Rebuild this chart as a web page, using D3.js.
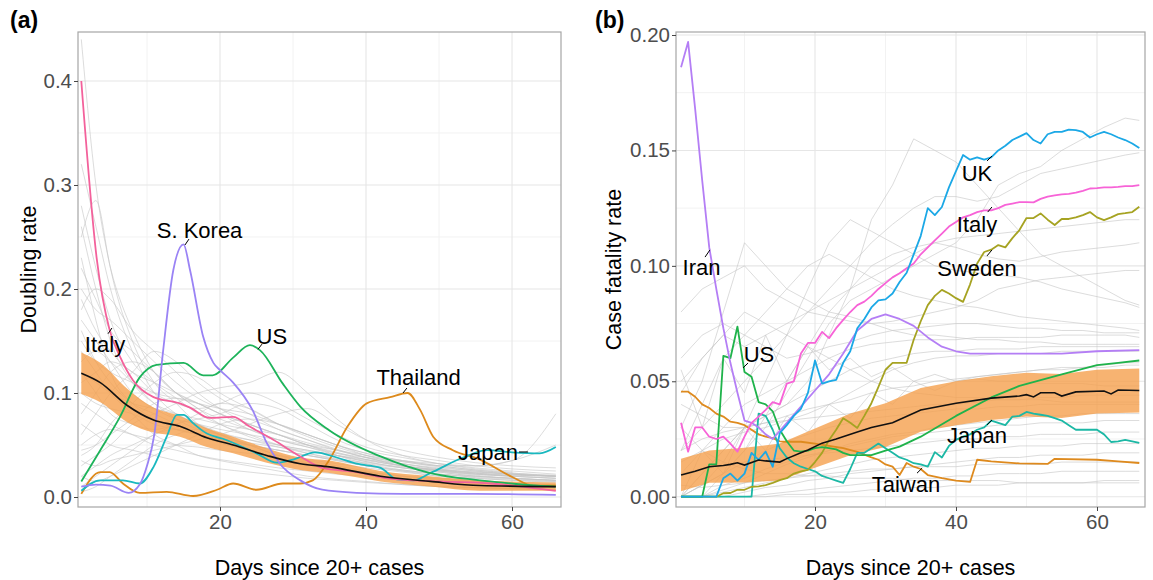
<!DOCTYPE html>
<html><head><meta charset="utf-8">
<script src="https://cdn.jsdelivr.net/npm/d3@7"></script>
<style>body{margin:0;background:#fff}svg{display:block}</style>
</head><body><svg id="chart" width="1153" height="580"></svg>
<script>
// ---------------- DATA : panel (a) doubling rate ----------------
const greyDaysA = [1,3,5,8,11,14,17,20,24,28,32,36,40,45,50,55,60,66];
const greyA = [
 [0.44,0.30,0.22,0.15,0.11,0.09,0.07,0.06,0.05,0.04,0.035,0.03,0.025,0.02,0.018,0.015,0.013,0.012],
 [0.32,0.26,0.20,0.14,0.10,0.08,0.07,0.06,0.05,0.045,0.04,0.035,0.03,0.025,0.022,0.02,0.018,0.016],
 [0.25,0.285,0.22,0.16,0.12,0.10,0.085,0.07,0.06,0.05,0.042,0.036,0.03,0.026,0.022,0.019,0.017,0.015],
 [0.28,0.22,0.17,0.13,0.11,0.095,0.08,0.07,0.058,0.05,0.045,0.04,0.034,0.028,0.024,0.02,0.018,0.016],
 [0.22,0.19,0.16,0.14,0.12,0.10,0.09,0.08,0.07,0.06,0.05,0.043,0.036,0.03,0.026,0.022,0.02],
 [0.20,0.18,0.17,0.15,0.13,0.11,0.095,0.085,0.075,0.065,0.055,0.045,0.038,0.03,0.025,0.021,0.018,0.016],
 [0.18,0.20,0.19,0.16,0.14,0.12,0.10,0.085,0.07,0.06,0.05,0.04,0.032,0.026,0.022,0.019],
 [0.15,0.13,0.12,0.11,0.10,0.095,0.09,0.085,0.08,0.07,0.06,0.05,0.042,0.035,0.03,0.026,0.023,0.02],
 [0.12,0.11,0.10,0.09,0.085,0.08,0.075,0.07,0.065,0.06,0.052,0.045,0.038,0.03,0.025,0.022,0.02,0.018],
 [0.10,0.09,0.085,0.08,0.07,0.065,0.06,0.055,0.05,0.045,0.04,0.035,0.03,0.025,0.02,0.018,0.016,0.014],
 [0.08,0.10,0.12,0.13,0.12,0.10,0.085,0.075,0.065,0.055,0.048,0.04,0.034,0.028,0.024,0.02,0.018,0.016],
 [0.06,0.08,0.10,0.12,0.14,0.13,0.11,0.095,0.08,0.065,0.055,0.046,0.038,0.032,0.027,0.023,0.02,0.018],
 [0.04,0.05,0.07,0.09,0.11,0.12,0.115,0.10,0.085,0.07,0.06,0.05,0.042,0.035,0.03,0.026,0.023,0.021],
 [0.03,0.04,0.05,0.07,0.08,0.09,0.10,0.105,0.11,0.12,0.10,0.075,0.055,0.04,0.032,0.027,0.024],
 [0.02,0.03,0.04,0.05,0.06,0.07,0.075,0.08,0.09,0.085,0.07,0.055,0.045,0.038,0.032,0.028,0.025,0.022],
 [0.01,0.02,0.03,0.045,0.06,0.065,0.06,0.055,0.05,0.045,0.04,0.036,0.032,0.028,0.025,0.022,0.02,0.018],
 [0.05,0.06,0.065,0.06,0.055,0.05,0.048,0.045,0.042,0.04,0.036,0.032,0.028,0.024,0.02,0.018,0.016,0.015],
 [0.09,0.08,0.07,0.06,0.05,0.045,0.04,0.036,0.032,0.028,0.025,0.022,0.02,0.018,0.016,0.014,0.012,0.011],
 [0.07,0.06,0.05,0.045,0.04,0.035,0.03,0.027,0.024,0.021,0.018,0.016,0.014,0.012,0.01,0.009,0.008,0.007],
 [0.14,0.12,0.10,0.08,0.06,0.05,0.04,0.035,0.03,0.025,0.02,0.017,0.015,0.012,0.01,0.009,0.008,0.007],
 [0.17,0.15,0.13,0.10,0.085,0.075,0.07,0.065,0.06,0.055,0.05,0.045,0.04,0.035,0.032,0.03,0.035,0.08],
 [0.11,0.12,0.13,0.12,0.10,0.09,0.085,0.09,0.10,0.09,0.075,0.06,0.048,0.04,0.035,0.03,0.027,0.025],
 [0.02,0.015,0.02,0.03,0.04,0.05,0.06,0.07,0.075,0.07,0.06,0.05,0.04,0.032,0.027,0.024,0.022,0.02],
 [0.13,0.14,0.13,0.11,0.09,0.075,0.065,0.06,0.055,0.05,0.045,0.04,0.035,0.03,0.026,0.023,0.021,0.02],
 [0.26,0.20,0.15,0.11,0.09,0.08,0.07,0.062,0.055,0.048,0.042,0.037,0.033,0.029,0.026,0.024,0.022,0.02],
 [0.005,0.01,0.02,0.035,0.05,0.06,0.065,0.06,0.05,0.04,0.033,0.028,0.024,0.02,0.017,0.015,0.013],
 [0.035,0.03,0.035,0.04,0.045,0.05,0.055,0.06,0.07,0.08,0.085,0.07,0.055,0.045,0.038,0.033,0.03,0.028],
 [0.16,0.13,0.11,0.09,0.08,0.07,0.06,0.052,0.045,0.038,0.032,0.028,0.024,0.02,0.018,0.016],
 [0.19,0.16,0.14,0.12,0.11,0.10,0.09,0.08,0.07,0.06,0.05,0.042,0.036,0.03,0.026,0.023,0.021,0.02],
 [0.045,0.05,0.06,0.075,0.09,0.095,0.09,0.08,0.065,0.055,0.048,0.042,0.038,0.034,0.03,0.03,0.035,0.05],
 [0.23,0.17,0.12,0.09,0.075,0.065,0.06,0.056,0.052,0.048,0.044,0.04,0.036,0.032,0.028,0.025,0.022,0.02],
 [0.12,0.10,0.08,0.07,0.065,0.07,0.08,0.09,0.085,0.07,0.058,0.048,0.04,0.034,0.029,0.025,0.022,0.02]
];
const italyA_days = [1,3.1,4.9,6.3,8.1,10.9,14.5,15.9,18.6,21.8,24,27.3,31,34,38.7,43,50,57,66];
const italyA_vals = [0.40,0.23,0.16,0.135,0.112,0.096,0.090,0.086,0.076,0.077,0.068,0.055,0.039,0.028,0.024,0.018,0.015,0.013,0.006];
const skoreaA_days = [1,3,5,7.5,9,10,11,12.2,13.6,15,15.9,17.7,19.1,20,21.8,24.5,26.4,28.2,31,34,38.7,45,55,66];
const skoreaA_vals = [0.010,0.012,0.011,0.004,0.012,0.03,0.06,0.14,0.218,0.243,0.218,0.154,0.129,0.122,0.110,0.083,0.052,0.032,0.016,0.007,0.004,0.003,0.003,0.002];
const usA_days = [1,3.6,6.3,9,11.3,15,17.7,19,21.8,24.1,25.5,28.6,31,35,42,48.8,55.6,62.5,66];
const usA_vals = [0.015,0.045,0.077,0.115,0.127,0.129,0.117,0.117,0.134,0.146,0.141,0.109,0.087,0.064,0.039,0.023,0.016,0.0115,0.010];
const japanA_days = [1,3.6,6.7,9,10.9,12.7,14.1,15,16.3,18.2,20.4,25,27.8,30,33,36,38.7,42,44.2,46.5,48.8,53.3,56.6,60,63.8,66];
const japanA_vals = [0.006,0.016,0.016,0.013,0.029,0.058,0.079,0.079,0.071,0.061,0.056,0.042,0.033,0.036,0.043,0.038,0.032,0.028,0.017,0.016,0.023,0.038,0.045,0.043,0.042,0.048];
const thailandA_days = [1,3.6,4.9,6.7,9,12.7,16.3,19.6,21.8,25,28.6,31,32.7,35,37.4,40.1,43.3,45.7,47.4,49.2,51.9,55.6,60.1,62.9,66];
const thailandA_vals = [0.003,0.024,0.024,0.013,0.004,0.005,0.001,0.007,0.013,0.007,0.013,0.013,0.016,0.036,0.067,0.090,0.096,0.100,0.084,0.058,0.045,0.036,0.019,0.011,0.011];
const meanA_days = [1,3.6,7.3,10.9,14.5,18.2,21.8,26.4,31,35,42,48.8,55.6,66];
const meanA_vals = [0.119,0.110,0.088,0.074,0.068,0.057,0.050,0.040,0.032,0.029,0.020,0.015,0.011,0.010];
const upperA_vals = [0.139,0.129,0.104,0.086,0.078,0.066,0.058,0.047,0.038,0.035,0.025,0.020,0.016,0.014];
const lowerA_vals = [0.099,0.091,0.072,0.062,0.058,0.048,0.042,0.033,0.026,0.023,0.015,0.010,0.006,0.006];

// ---------------- DATA : panel (b) case fatality rate ----------------
const greyDaysB = [1,4,7,10,13,16,19,22,25,28,31,34,37,40,43,46,49,52,55,58,61,64,66];
const greyB = [
 [0.03,0.05,0.08,0.11,0.10,0.09,0.085,0.08,0.078,0.075,0.072,0.07,0.07,0.069,0.068,0.068,0.067,0.067,0.066,0.066,0.066,0.066,0.066],
 [0.0,0.01,0.02,0.03,0.035,0.04,0.05,0.07,0.09,0.12,0.135,0.155,0.15,0.145,0.135,0.125,0.115,0.105,0.10,0.095,0.09,0.085,0.083],
 [0.0,0.005,0.01,0.02,0.03,0.045,0.06,0.075,0.085,0.09,0.095,0.10,0.105,0.11,0.12,0.135,0.14,0.143,0.15,0.155,0.16,0.164,0.163],
 [0.02,0.03,0.04,0.05,0.06,0.07,0.08,0.09,0.10,0.11,0.118,0.125,0.13,0.13,0.128,0.13,0.135,0.14,0.142,0.144,0.146,0.148,0.149],
 [0.05,0.06,0.07,0.065,0.07,0.075,0.08,0.085,0.09,0.095,0.10,0.105,0.11,0.112,0.113,0.114,0.115,0.116,0.117,0.118,0.119,0.12,0.12],
 [0.0,0.0,0.01,0.02,0.035,0.05,0.065,0.08,0.09,0.10,0.105,0.108,0.11,0.108,0.105,0.103,0.102,0.104,0.106,0.107,0.108,0.109,0.11],
 [0.06,0.07,0.075,0.07,0.065,0.06,0.062,0.065,0.067,0.07,0.072,0.073,0.074,0.075,0.075,0.074,0.073,0.073,0.072,0.072,0.071,0.071,0.071],
 [0.01,0.02,0.03,0.04,0.045,0.05,0.055,0.06,0.064,0.066,0.067,0.068,0.068,0.068,0.069,0.069,0.069,0.069,0.07,0.07,0.07,0.07,0.069],
 [0.0,0.01,0.02,0.03,0.035,0.04,0.045,0.05,0.055,0.058,0.06,0.062,0.063,0.063,0.064,0.064,0.064,0.065,0.065,0.065,0.065,0.065,0.065],
 [0.04,0.035,0.03,0.03,0.032,0.035,0.038,0.04,0.042,0.045,0.047,0.048,0.05,0.051,0.052,0.053,0.054,0.055,0.055,0.056,0.056,0.057,0.057],
 [0.02,0.025,0.028,0.03,0.032,0.033,0.034,0.035,0.036,0.037,0.038,0.039,0.04,0.04,0.041,0.042,0.042,0.043,0.043,0.044,0.044,0.044,0.044],
 [0.0,0.005,0.01,0.015,0.02,0.024,0.027,0.03,0.032,0.034,0.035,0.036,0.037,0.038,0.038,0.039,0.039,0.04,0.04,0.04,0.04,0.04,0.04],
 [0.0,0.0,0.005,0.008,0.012,0.015,0.018,0.02,0.022,0.024,0.026,0.027,0.028,0.029,0.03,0.031,0.031,0.032,0.032,0.032,0.033,0.033,0.033],
 [0.01,0.012,0.014,0.015,0.016,0.017,0.018,0.019,0.02,0.021,0.022,0.023,0.024,0.025,0.025,0.026,0.026,0.027,0.027,0.027,0.028,0.028,0.028],
 [0.0,0.0,0.002,0.004,0.006,0.008,0.01,0.012,0.014,0.016,0.017,0.018,0.019,0.02,0.021,0.021,0.022,0.022,0.022,0.023,0.023,0.023,0.023],
 [0.0,0.0,0.0,0.002,0.004,0.005,0.007,0.008,0.01,0.011,0.012,0.013,0.014,0.015,0.016,0.017,0.017,0.018,0.018,0.018,0.019,0.019,0.019],
 [0.005,0.004,0.005,0.006,0.007,0.008,0.009,0.01,0.011,0.012,0.012,0.013,0.013,0.013,0.014,0.014,0.014,0.014,0.015,0.015,0.015,0.015,0.015],
 [0.0,0.0,0.0,0.0,0.001,0.002,0.003,0.004,0.005,0.006,0.007,0.008,0.008,0.009,0.009,0.01,0.01,0.01,0.011,0.011,0.011,0.011,0.011],
 [0.0,0.0,0.0,0.0,0.0,0.001,0.001,0.002,0.002,0.003,0.003,0.004,0.004,0.005,0.005,0.005,0.006,0.006,0.006,0.006,0.007,0.007,0.007],
 [0.08,0.09,0.095,0.10,0.09,0.085,0.08,0.078,0.076,0.075,0.076,0.078,0.08,0.082,0.085,0.09,0.092,0.094,0.095,0.096,0.097,0.098,0.098],
 [0.045,0.06,0.07,0.08,0.075,0.07,0.065,0.06,0.055,0.05,0.047,0.045,0.044,0.043,0.043,0.042,0.042,0.042,0.041,0.041,0.041,0.041,0.041],
 [0.02,0.04,0.06,0.07,0.08,0.09,0.10,0.105,0.10,0.095,0.09,0.087,0.085,0.083,0.082,0.08,0.078,0.077,0.076,0.075,0.074,0.073,0.072],
 [0.0,0.005,0.015,0.03,0.05,0.07,0.09,0.11,0.12,0.115,0.11,0.105,0.10,0.098,0.097,0.096,0.095,0.093,0.09,0.088,0.086,0.084,0.082],
 [0.03,0.02,0.015,0.012,0.01,0.01,0.009,0.009,0.008,0.008,0.008,0.007,0.007,0.007,0.007,0.007,0.006,0.006,0.006,0.006,0.006,0.006,0.006],
 [0.015,0.02,0.025,0.028,0.03,0.033,0.036,0.04,0.045,0.05,0.055,0.058,0.06,0.061,0.061,0.062,0.062,0.062,0.063,0.063,0.063,0.063,0.063],
 [0.0,0.0,0.003,0.006,0.01,0.014,0.017,0.02,0.023,0.025,0.027,0.028,0.03,0.031,0.032,0.033,0.034,0.035,0.035,0.036,0.036,0.036,0.036],
 [0.055,0.03,0.06,0.045,0.07,0.05,0.065,0.055,0.06,0.052,0.056,0.05,0.053,0.05,0.051,0.05,0.05,0.049,0.049,0.049,0.048,0.048,0.048],
 [0.0,0.02,0.01,0.03,0.02,0.035,0.028,0.04,0.034,0.045,0.04,0.05,0.046,0.05,0.052,0.053,0.054,0.055,0.056,0.056,0.057,0.058,0.058]
];
const iranB_days = [1,2,3,4,5,6,7,8,9,10,11,12,13,14,16,18,20,22,24,26,28,30,32,34,36,38,40,42,46,50,55,60,66];
const iranB_vals = [0.186,0.197,0.168,0.137,0.108,0.090,0.073,0.058,0.045,0.033,0.032,0.030,0.027,0.025,0.032,0.039,0.046,0.053,0.062,0.072,0.077,0.079,0.077,0.074,0.069,0.065,0.063,0.062,0.062,0.062,0.062,0.063,0.0635];
const usB_days = [1,4,5,6,7,8,9,10,11,12,13,14,15,16,17,18,19,20,21,22,23,24,25,26,28,30,32,35,40,45,49,55,60,63,66];
const usB_vals = [0,0,0.014,0.014,0.061,0.060,0.0737,0.054,0.052,0.041,0.040,0.037,0.029,0.024,0.020,0.0195,0.020,0.021,0.0215,0.021,0.0205,0.019,0.018,0.018,0.018,0.020,0.0217,0.026,0.035,0.043,0.048,0.053,0.057,0.058,0.059];
const ukB_vals = [0,0,0,0,0,0,0.008,0.010,0.007,0.010,0.019,0.016,0.0195,0.013,0.0275,0.031,0.035,0.038,0.045,0.059,
 0.049,0.050,0.0506,0.058,0.063,0.073,0.077,0.082,0.085,0.0855,0.088,0.093,0.097,0.105,0.113,0.125,0.122,0.1255,0.134,0.141,
 0.148,0.146,0.147,0.146,0.147,0.150,0.152,0.1545,0.156,0.1575,0.1545,0.153,0.157,0.158,0.158,0.159,0.1588,0.158,0.1556,0.157,
 0.158,0.157,0.1556,0.1545,0.153,0.151];
const italyB_vals = [0.032,0.0195,0.030,0.030,0.026,0.025,0.026,0.023,0.0195,0.026,0.032,0.0347,0.0376,0.041,0.040,0.049,0.050,0.062,0.0666,0.0666,
 0.0714,0.0687,0.073,0.0766,0.080,0.083,0.0845,0.087,0.090,0.0925,0.095,0.0968,0.099,0.101,0.105,0.108,0.111,0.114,0.117,0.119,
 0.121,0.122,0.1233,0.124,0.124,0.125,0.1264,0.127,0.1276,0.1276,0.1275,0.129,0.130,0.1305,0.131,0.1312,0.1317,0.1325,0.1335,0.1337,
 0.134,0.134,0.1342,0.1345,0.1345,0.135];
const swedenB_vals = [0,0,0,0,0,0,0.0015,0.0016,0.003,0.003,0.0043,0.0045,0.005,0.006,0.0072,0.008,0.010,0.011,0.0116,0.015,
 0.019,0.0246,0.029,0.034,0.032,0.0298,0.035,0.0405,0.0476,0.055,0.058,0.058,0.058,0.068,0.076,0.083,0.087,0.0896,0.088,0.086,
 0.0844,0.092,0.101,0.106,0.107,0.109,0.108,0.112,0.1155,0.1207,0.1207,0.1227,0.120,0.1177,0.1203,0.1203,0.121,0.122,0.1233,0.121,
 0.1198,0.121,0.1224,0.1228,0.1233,0.1256];
const japanB_vals = [0,0,0,0,0,0,0,0,0,0,0,0.036,0.035,0.029,0.021,0.017,0.0145,0.013,0.012,0.011,
 0.009,0.008,0.007,0.006,0.012,0.019,0.019,0.021,0.023,0.021,0.019,0.017,0.016,0.0145,0.014,0.013,0.0193,0.017,0.022,0.0246,
 0.026,0.027,0.029,0.030,0.033,0.032,0.031,0.0347,0.035,0.0367,0.036,0.0355,0.035,0.034,0.033,0.031,0.029,0.029,0.029,0.029,
 0.027,0.0237,0.024,0.0246,0.024,0.0233];
const taiwanB_days = [1,2,3,4,5,6,7,8,9,10,11,12,13,14,15,16,18,20,22,24,26,28,29,30,31,32,33,34,35,36,38,40,42,43,45,49,53,54,60,63,66];
const taiwanB_vals = [0.0455,0.0455,0.0433,0.040,0.0384,0.036,0.0347,0.0325,0.032,0.031,0.029,0.027,0.026,0.0254,0.024,0.0238,0.0238,0.023,0.022,0.021,0.0194,0.017,0.016,0.014,0.013,0.0094,0.0146,0.013,0.012,0.0094,0.008,0.007,0.0064,0.016,0.0153,0.0144,0.0142,0.0164,0.016,0.0153,0.0146];
const meanB_days = [1,3,5,7,8,9,10,12,13,15,16,18,19,21,23,26,28,31,35,40,45,49,50,51,52,54,55,57,61,62,63,66];
const meanB_vals = [0.0094,0.011,0.013,0.0135,0.014,0.0147,0.0137,0.0159,0.0155,0.015,0.0165,0.019,0.0202,0.0232,0.025,0.028,0.030,0.032,0.0376,0.0405,0.0427,0.0436,0.0442,0.0432,0.045,0.045,0.0436,0.0454,0.0458,0.0445,0.0462,0.046];
const bandB_days = [1,5,10,15,20,25,30,35,40,45,50,55,60,66];
const upperB_vals = [0.0164,0.020,0.0212,0.023,0.0295,0.036,0.0405,0.0471,0.050,0.0522,0.0537,0.0531,0.055,0.0555];
const lowerB_vals = [0.0024,0.006,0.0062,0.007,0.0125,0.018,0.0215,0.0281,0.031,0.0332,0.0347,0.0341,0.036,0.0365];
const dailyDays = d3.range(1, 67);

const xTicks = [20,40,60], xMinor = [10,30,50];
const yTicksA = [0,0.1,0.2,0.3,0.4], yMinorA = [0.05,0.15,0.25,0.35];
const yTicksB = [0,0.05,0.10,0.15,0.20], yMinorB = [0.025,0.075,0.125,0.175];

// ---------------- DRAWING ----------------
const FONT = "'Liberation Sans', Arial, Helvetica, sans-serif";
const svg = d3.select("#chart").style("font-family", FONT);
const zip = (ds, vs) => vs.map((v,i)=>[ds[i], v]).filter(p => p[0] !== undefined && p[1] !== undefined);

function panel(cfg){
  const x = d3.scaleLinear().domain(cfg.xDomain).range([cfg.left, cfg.right]);
  const y = d3.scaleLinear().domain(cfg.yDomain).range([cfg.bottom, cfg.top]);
  const g = svg.append("g");
  const clipId = "clip" + cfg.id;
  svg.append("clipPath").attr("id", clipId).append("rect")
    .attr("x", cfg.left).attr("y", cfg.top).attr("width", cfg.right-cfg.left).attr("height", cfg.bottom-cfg.top);
  // grid
  g.selectAll(".xm").data(xMinor).join("line").attr("x1",x).attr("x2",x).attr("y1",cfg.top).attr("y2",cfg.bottom).attr("stroke","#f2f2f2").attr("stroke-width",1);
  g.selectAll(".ym").data(cfg.yMinor).join("line").attr("y1",y).attr("y2",y).attr("x1",cfg.left).attr("x2",cfg.right).attr("stroke","#f2f2f2").attr("stroke-width",1);
  g.selectAll(".xM").data(xTicks).join("line").attr("x1",x).attr("x2",x).attr("y1",cfg.top).attr("y2",cfg.bottom).attr("stroke","#e6e6e6").attr("stroke-width",1.1);
  g.selectAll(".yM").data(cfg.yTicks).join("line").attr("y1",y).attr("y2",y).attr("x1",cfg.left).attr("x2",cfg.right).attr("stroke","#e6e6e6").attr("stroke-width",1.1);

  const plot = g.append("g").attr("clip-path", `url(#${clipId})`);
  const line = d3.line().x(d=>x(d[0])).y(d=>y(d[1])).curve(cfg.curve);
  // grey lines
  plot.selectAll(".grey").data(cfg.grey).join("path")
    .attr("d", vals => line(zip(cfg.greyDays, vals)))
    .attr("fill","none").attr("stroke","#c4c4c4").attr("stroke-opacity",0.6).attr("stroke-width",1);
  // band
  const area = d3.area().x(d=>x(d[0])).y0(d=>y(d[1])).y1(d=>y(d[2])).curve(cfg.curve);
  plot.append("path").datum(cfg.bandDays.map((d,i)=>[d, cfg.lower[i], cfg.upper[i]]))
    .attr("d", area).attr("fill","#f5a04e").attr("fill-opacity",0.8);
  // highlighted
  plot.selectAll(".hl").data(cfg.series).join("path")
    .attr("d", s => line(zip(s.days, s.vals)))
    .attr("fill","none").attr("stroke", s=>s.color).attr("stroke-width",1.8).attr("stroke-linejoin","round");
  // mean
  plot.append("path").datum(zip(cfg.meanDays, cfg.meanVals)).attr("d", line)
    .attr("fill","none").attr("stroke","#111").attr("stroke-width",1.6);
  // border
  g.append("rect").attr("x",cfg.left).attr("y",cfg.top).attr("width",cfg.right-cfg.left).attr("height",cfg.bottom-cfg.top)
    .attr("fill","none").attr("stroke","#a6a6a6").attr("stroke-width",1.2);
  // axes
  const ax = g.append("g").attr("transform",`translate(0,${cfg.bottom})`)
    .call(d3.axisBottom(x).tickValues(xTicks).tickSize(4).tickPadding(3).tickFormat(d3.format("d")));
  const ay = g.append("g").attr("transform",`translate(${cfg.left},0)`)
    .call(d3.axisLeft(y).tickValues(cfg.yTicks).tickSize(4).tickPadding(2).tickFormat(d3.format(cfg.yFmt)));
  [ax, ay].forEach(a => {
    a.select(".domain").remove();
    a.selectAll(".tick line").attr("stroke","#444").attr("stroke-width",1);
    a.selectAll(".tick text").attr("fill","#4d4d4d").style("font-size","20.5px").style("font-family",FONT);
  });
  // axis titles
  svg.append("text").attr("x",(cfg.left+cfg.right)/2).attr("y",575).attr("text-anchor","middle")
    .style("font-size","21.5px").attr("fill","#000").text("Days since 20+ cases");
  svg.append("text").attr("transform",`translate(${cfg.yTitleX},${(cfg.top+cfg.bottom)/2}) rotate(-90)`)
    .attr("text-anchor","middle").style("font-size","21.5px").attr("fill","#000").text(cfg.yTitle);
  // panel tag
  svg.append("text").attr("x",cfg.tagX).attr("y",28).style("font-size","23px").style("font-weight","bold").text(cfg.tag);
  // labels with short leader segments
  cfg.labels.forEach(l => {
    g.append("line").attr("x1",x(l.seg[0])).attr("y1",y(l.seg[1])).attr("x2",x(l.seg[2])).attr("y2",y(l.seg[3]))
      .attr("stroke","#000").attr("stroke-width",1);
    g.append("text").attr("x",x(l.day)).attr("y",y(l.v)).attr("text-anchor","middle")
      .style("font-size","22px").attr("fill","#000").text(l.name);
  });
}

panel({
  id:"a", tag:"(a)", tagX:10, left:78, right:561, top:32, bottom:507,
  xDomain:[0.548,66.71], yDomain:[-0.0096,0.4471],
  yTicks:yTicksA, yMinor:yMinorA, yFmt:".1f", yTitle:"Doubling rate", yTitleX:36,
  curve:d3.curveMonotoneX, grey:greyA, greyDays:greyDaysA,
  bandDays:meanA_days, lower:lowerA_vals, upper:upperA_vals, meanDays:meanA_days, meanVals:meanA_vals,
  series:[
    {days:thailandA_days, vals:thailandA_vals, color:"#dd8a1c"},
    {days:japanA_days, vals:japanA_vals, color:"#19b8bf"},
    {days:usA_days, vals:usA_vals, color:"#1db35a"},
    {days:skoreaA_days, vals:skoreaA_vals, color:"#9a83f5"},
    {days:italyA_days, vals:italyA_vals, color:"#f3619b"}
  ],
  labels:[
    {name:"S. Korea", day:17.2, v:0.249, seg:[15.2,0.2423,15.75,0.248]},
    {name:"Italy", day:4.25, v:0.1394, seg:[4.66,0.157,5.2,0.1625]},
    {name:"US", day:27.1, v:0.147, seg:[25.2,0.142,25.75,0.147]},
    {name:"Thailand", day:47.2, v:0.1077, seg:[45.07,0.100,45.6,0.1048]},
    {name:"Japan", day:56.7, v:0.0356, seg:[60.96,0.0433,62.2,0.0433]}
  ]
});

panel({
  id:"b", tag:"(b)", tagX:595, left:676, right:1145, top:32, bottom:507,
  xDomain:[0.284,66.81], yDomain:[-0.00446,0.2013],
  yTicks:yTicksB, yMinor:yMinorB, yFmt:".2f", yTitle:"Case fatality rate", yTitleX:621,
  curve:d3.curveLinear, grey:greyB, greyDays:greyDaysB,
  bandDays:bandB_days, lower:lowerB_vals, upper:upperB_vals, meanDays:meanB_days, meanVals:meanB_vals,
  series:[
    {days:taiwanB_days, vals:taiwanB_vals, color:"#de8a1e"},
    {days:dailyDays, vals:japanB_vals, color:"#1cb8a5"},
    {days:dailyDays, vals:swedenB_vals, color:"#a6a322"},
    {days:usB_days, vals:usB_vals, color:"#1fb34b"},
    {days:iranB_days, vals:iranB_vals, color:"#b47ef5"},
    {days:dailyDays, vals:italyB_vals, color:"#f763d7"},
    {days:dailyDays, vals:ukB_vals, color:"#1ba8e6"}
  ],
  labels:[
    {name:"Iran", day:3.9, v:0.0961, seg:[4.4,0.1038,5.1,0.1069]},
    {name:"US", day:12.06, v:0.0584, seg:[9.79,0.0558,10.5,0.0579]},
    {name:"UK", day:42.98, v:0.1368, seg:[44.4,0.1454,45.1,0.1476]},
    {name:"Italy", day:42.98, v:0.1147, seg:[44.5,0.1233,45.1,0.1255]},
    {name:"Sweden", day:42.98, v:0.0956, seg:[44.4,0.1043,45.1,0.1069]},
    {name:"Japan", day:42.98, v:0.0233, seg:[44.4,0.0311,45.1,0.0332]},
    {name:"Taiwan", day:32.9, v:0.002, seg:[34.47,0.0102,35.2,0.0124]}
  ]
});
</script></body></html>
